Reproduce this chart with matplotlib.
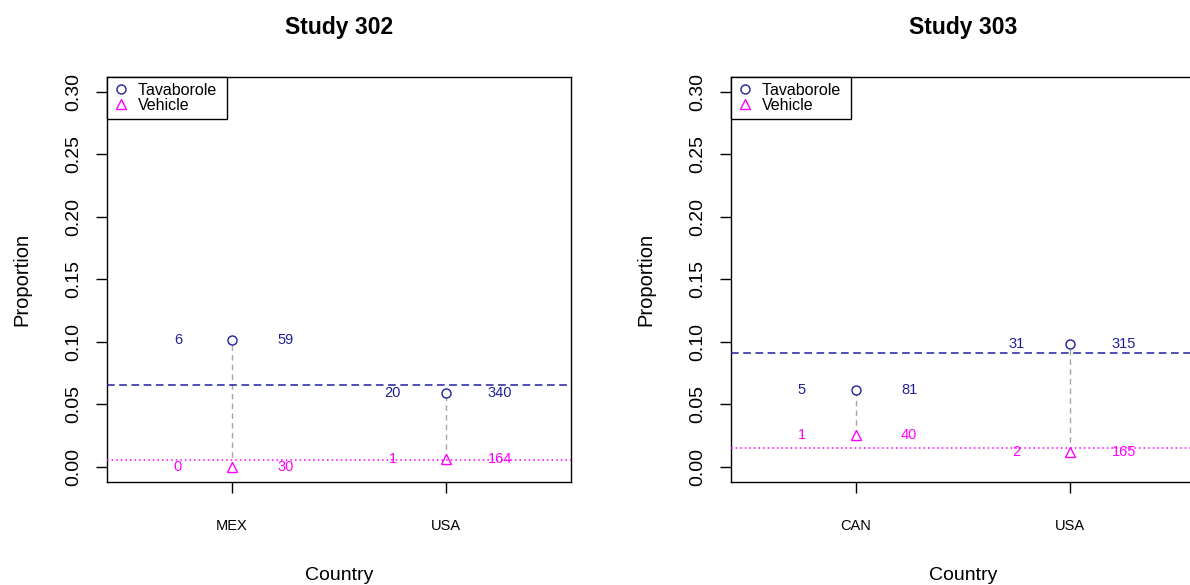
import numpy as np
import matplotlib.pyplot as plt
from matplotlib.lines import Line2D

plt.rcParams['font.family'] = ['Liberation Sans', 'DejaVu Sans']

# data: events / subjects per country, for each study
studies = ['Study 302', 'Study 303']
countries = [['MEX', 'USA'], ['CAN', 'USA']]
tav_events = [[6, 20], [5, 31]]
tav_n = [[59, 340], [81, 315]]
veh_events = [[0, 1], [1, 2]]
veh_n = [[30, 164], [40, 165]]

tav_col = '#1f1f9c'
veh_col = '#ff00ff'
grey = '#a6a6a6'

fig = plt.figure(figsize=(11.9, 5.85), dpi=100)
ax_w = 464 / 1190
ax_h = 404.7 / 585
ax_b = 1 - 481.7 / 585
lefts = [107 / 1190, 731 / 1190]

for k in range(len(studies)):
    ax = fig.add_axes([lefts[k], ax_b, ax_w, ax_h])
    x = np.arange(1, len(countries[k]) + 1)
    pt = np.array(tav_events[k]) / np.array(tav_n[k])
    pv = np.array(veh_events[k]) / np.array(veh_n[k])
    all_t = sum(tav_events[k]) / sum(tav_n[k])
    all_v = sum(veh_events[k]) / sum(veh_n[k])

    ax.vlines(x, pv, pt, colors=grey, linestyles=(0, (4, 3)), lw=1.0, zorder=1)
    ax.plot(x, pt, 'o', mfc='white', mec=tav_col, ms=6.5, mew=1.0, zorder=2)
    ax.plot(x, pv, '^', mfc='white', mec=veh_col, ms=7, mew=1.0, zorder=2)
    ax.axhline(all_t, color=tav_col, ls=(0, (5, 3)), lw=1.1, zorder=3)
    ax.axhline(all_v, color=veh_col, ls=(0, (1, 2)), lw=1.1, zorder=3)

    for i in range(len(x)):
        ax.text(x[i] - 0.25, pt[i], str(tav_events[k][i]), color=tav_col,
                ha='center', va='center', fontsize=10.5)
        ax.text(x[i] + 0.25, pt[i], str(tav_n[k][i]), color=tav_col,
                ha='center', va='center', fontsize=10.5)
        ax.text(x[i] - 0.25, pv[i], str(veh_events[k][i]), color=veh_col,
                ha='center', va='center', fontsize=10.5)
        ax.text(x[i] + 0.25, pv[i], str(veh_n[k][i]), color=veh_col,
                ha='center', va='center', fontsize=10.5)

    ax.set_xlim(0.42, 2.58)
    ax.set_ylim(-0.012, 0.312)
    ax.set_xticks(x, countries[k], fontsize=10.5)
    yt = np.arange(0, 0.31, 0.05)
    ax.set_yticks(yt, ['%.2f' % v for v in yt], fontsize=14,
                  rotation=90, va='center')
    ax.tick_params(axis='x', length=8, width=1, pad=19)
    ax.tick_params(axis='y', length=8, width=1, pad=10)
    for s in ax.spines.values():
        s.set_linewidth(1.0)

    ax.set_title(studies[k], fontsize=16.5, fontweight='bold', pad=31)
    ax.set_xlabel('Country', fontsize=14)
    ax.set_ylabel('Proportion', fontsize=14.5)
    ax.xaxis.set_label_coords(0.5, -0.21)
    ax.yaxis.set_label_coords(-0.162, 0.5)

    handles = [Line2D([], [], ls='none', marker='o', mfc='white', mec=tav_col, ms=6.5),
               Line2D([], [], ls='none', marker='^', mfc='white', mec=veh_col, ms=7)]
    leg = ax.legend(handles, ['Tavaborole ', 'Vehicle'], loc='upper left',
                    bbox_to_anchor=(0, 1), borderaxespad=0, fancybox=False,
                    framealpha=1, edgecolor='black', fontsize=11.5,
                    handlelength=1.0, handletextpad=0.55, labelspacing=-0.02,
                    borderpad=0.38)
    leg.get_frame().set_linewidth(1.0)

fig.savefig('out.png', dpi=100)
